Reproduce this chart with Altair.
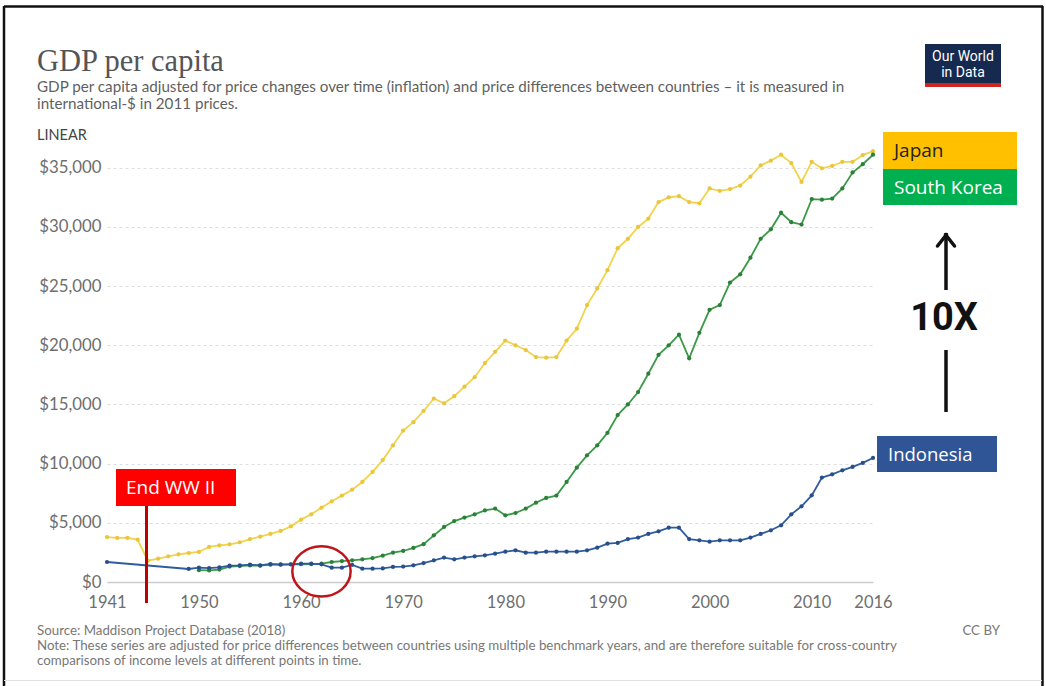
import altair as alt
import pandas as pd

# ---------------- data (values in thousands of international-$) ----------------
japan_years = list(range(1941, 2017))
japan_k = [3.80, 3.72, 3.72, 3.58, 1.80, 1.97, 2.17, 2.34, 2.45, 2.54,
           2.96, 3.10, 3.18, 3.35, 3.63, 3.83, 4.06, 4.31, 4.70, 5.27,
           5.72, 6.28, 6.82, 7.30, 7.80, 8.45, 9.30, 10.30, 11.55, 12.80,
           13.50, 14.45, 15.50, 15.10, 15.70, 16.50, 17.30, 18.50, 19.45, 20.40,
           20.00, 19.60, 19.00, 18.95, 19.00, 20.40, 21.40, 23.40, 24.80, 26.35,
           28.20, 29.00, 30.00, 30.70, 32.10, 32.50, 32.60, 32.10, 32.00, 33.25,
           33.05, 33.20, 33.50, 34.25, 35.20, 35.60, 36.10, 35.40, 33.80, 35.50,
           34.95, 35.15, 35.50, 35.50, 36.07, 36.40]

korea_years = list(range(1950, 2017))
korea_k = [1.00, 0.98, 1.05, 1.30, 1.35, 1.40, 1.38, 1.46, 1.48, 1.50,
           1.50, 1.52, 1.56, 1.69, 1.77, 1.83, 1.92, 2.02, 2.22, 2.48,
           2.62, 2.88, 3.20, 3.94, 4.65, 5.15, 5.44, 5.72, 6.05, 6.20,
           5.63, 5.83, 6.20, 6.70, 7.10, 7.30, 8.45, 9.66, 10.70, 11.55,
           12.60, 14.10, 15.00, 16.05, 17.60, 19.20, 20.00, 20.90, 18.90, 21.05,
           23.00, 23.40, 25.30, 26.00, 27.40, 29.00, 29.80, 31.20, 30.40, 30.20,
           32.35, 32.30, 32.40, 33.25, 34.60, 35.30, 36.10]

indonesia_years = [1941] + list(range(1949, 2017))
indonesia_k = [1.69,
               1.10, 1.21, 1.18, 1.24, 1.38, 1.41, 1.46, 1.41, 1.52, 1.46,
               1.49, 1.55, 1.55, 1.49, 1.21, 1.21, 1.45, 1.13, 1.13, 1.15,
               1.27, 1.30, 1.41, 1.60, 1.83, 2.06, 1.92, 2.06, 2.17, 2.25,
               2.39, 2.56, 2.68, 2.48, 2.48, 2.56, 2.56, 2.56, 2.56, 2.68,
               2.90, 3.24, 3.30, 3.63, 3.75, 4.06, 4.28, 4.59, 4.59, 3.63,
               3.52, 3.41, 3.52, 3.52, 3.52, 3.75, 4.06, 4.37, 4.79, 5.72,
               6.39, 7.32, 8.82, 9.10, 9.44, 9.72, 10.06, 10.48]

countries = ["Japan", "South Korea", "Indonesia"]
line_colors = ["#F1D34C", "#3A9A47", "#2F5C9E"]
point_colors = ["#E9C63C", "#2E7F3A", "#284F8C"]

x_ticks = [1941, 1950, 1960, 1970, 1980, 1990, 2000, 2010, 2016]
y_ticks = [0, 5000, 10000, 15000, 20000, 25000, 30000, 35000]

title_text = "GDP per capita"
subtitle_lines = [
    "GDP per capita adjusted for price changes over time (inflation) and price differences between countries \u2013 it is measured in",
    "international-$ in 2011 prices.",
]
footer_lines = [
    "Source: Maddison Project Database (2018)",
    "Note: These series are adjusted for price differences between countries using multiple benchmark years, and are therefore suitable for cross-country",
    "comparisons of income levels at different points in time.",
]

rows = []
for c, yrs, vals in [("Japan", japan_years, japan_k),
                     ("South Korea", korea_years, korea_k),
                     ("Indonesia", indonesia_years, indonesia_k)]:
    for yr, v in zip(yrs, vals):
        rows.append({"country": c, "year": yr, "gdp": round(v * 1000)})
df = pd.DataFrame(rows)

# ---------------- layout ----------------
W, H = 766, 432
L, T = 107, 150
R = 1046 - L - W
B = 686 - T - H

def px(x):
    return x - L

def py(y):
    return y - T

one = alt.Data(values=[{"k": 1}])

def box(x0, y0, x1, y1, fill):
    return alt.Chart(one).mark_rect(fill=fill, stroke=None).encode(
        x=alt.value(px(x0)), x2=alt.value(px(x1)),
        y=alt.value(py(y0)), y2=alt.value(py(y1)))

def label(x, y, text, **kw):
    return alt.Chart(one).mark_text(text=text, baseline="middle", **kw).encode(
        x=alt.value(px(x)), y=alt.value(py(y)))

def seg(x0, y0, x1, y1, color, width, cap="butt"):
    return alt.Chart(one).mark_rule(color=color, strokeWidth=width, strokeCap=cap).encode(
        x=alt.value(px(x0)), x2=alt.value(px(x1)),
        y=alt.value(py(y0)), y2=alt.value(py(y1)))

xenc = alt.X("year:Q",
             scale=alt.Scale(domain=[1941, 2016], nice=False, zero=False),
             axis=alt.Axis(values=x_ticks, format="d", title=None, grid=False,
                           domain=True, domainColor="#cccccc", domainWidth=1.5,
                           ticks=False, labelPadding=12, labelFontSize=16.5,
                           labelFont="Lato", labelColor="#6e6e6e",
                           labelFlush=False, labelOverlap=False))
yenc = alt.Y("gdp:Q",
             scale=alt.Scale(domain=[0, 36500], nice=False),
             axis=alt.Axis(values=y_ticks, format="$,.0f", title=None, grid=True,
                           gridDash=[3, 3], gridColor="#dddddd", gridWidth=1,
                           domain=False, ticks=False, labelPadding=6,
                           labelFontSize=16.8, labelFont="Lato", labelColor="#6e6e6e"))

base = alt.Chart(df)
series_layers = []
for c, lc, pc in zip(countries, line_colors, point_colors):
    sub = base.transform_filter(alt.datum.country == c)
    series_layers.append(
        sub.mark_line(strokeWidth=1.8, color=lc).encode(x=xenc, y=yenc, detail="country:N"))
    series_layers.append(
        sub.mark_point(filled=True, size=18, color=pc, opacity=1).encode(x=xenc, y=yenc))

# circle highlighting the crossover (~1962)
cross = alt.Chart(alt.Data(values=[{"year": 1962, "gdp": 900}])).mark_point(
    shape="M -1 0 A 1 0.86 0 1 0 1 0 A 1 0.86 0 1 0 -1 0 Z",
    filled=False, size=3400, color="#C0141B", strokeWidth=2.5, opacity=1
).encode(x=alt.X("year:Q"), y=alt.Y("gdp:Q"))

annot = []
# frame
annot.append(seg(4, 6.5, 1043, 6.5, "#111111", 2.5))
annot.append(seg(4, 6, 4, 686, "#111111", 2.5))
annot.append(seg(1042.5, 6, 1042.5, 686, "#111111", 2.5))
annot.append(seg(4, 680.5, 1042, 680.5, "#e2e2e2", 1))

# title, subtitle
annot.append(label(37, 62, title_text, font="Liberation Serif", fontSize=30.5,
                   color="#555555", align="left"))
annot.append(label(37, 87, subtitle_lines[0], font="Lato", fontSize=15.2,
                   color="#5f5f5f", align="left"))
annot.append(label(37, 103.5, subtitle_lines[1], font="Lato", fontSize=15.2,
                   color="#5f5f5f", align="left"))
annot.append(label(37, 136, "LINEAR", font="Lato", fontSize=14.5,
                   color="#444444", align="left"))

# OWID logo
annot.append(box(925, 44, 1001, 87, "#16294f"))
annot.append(box(925, 83, 1001, 87, "#CE261E"))
annot.append(label(963, 57, "Our World", font="Roboto", fontSize=14,
                   color="#ffffff", align="center"))
annot.append(label(963, 73, "in Data", font="Roboto", fontSize=14,
                   color="#ffffff", align="center"))

# country boxes
annot.append(box(883, 132, 1017, 169, "#FFC000"))
annot.append(label(894, 151, "Japan", font="Open Sans", fontSize=19,
                   color="#222222", align="left"))
annot.append(box(883, 169, 1017, 205, "#00B050"))
annot.append(label(894, 188, "South Korea", font="Open Sans", fontSize=19,
                   color="#ffffff", align="left"))
annot.append(box(877, 436, 997, 472, "#2F5597"))
annot.append(label(888, 455, "Indonesia", font="Open Sans", fontSize=18.5,
                   color="#ffffff", align="left"))

# 10X arrow
annot.append(seg(946, 236, 946, 290, "#111111", 3.5))
annot.append(seg(937.5, 246, 946.5, 234.5, "#111111", 3.5, "round"))
annot.append(seg(954.5, 246, 945.5, 234.5, "#111111", 3.5, "round"))
annot.append(label(944, 319, "10X", font="Roboto", fontSize=38, fontWeight="bold",
                   color="#111111", align="center"))
annot.append(seg(946, 350, 946, 412, "#111111", 3.5))

# End WW II
annot.append(seg(146.5, 506, 146.5, 603, "#C00000", 3))
annot.append(box(116, 469, 236, 506, "#FF0000"))
annot.append(label(126, 488, "End WW II", font="Open Sans", fontSize=19,
                   color="#ffffff", align="left"))

# footer
annot.append(label(37, 631, footer_lines[0], font="Lato", fontSize=13.3,
                   color="#777777", align="left"))
annot.append(label(37, 645.8, footer_lines[1], font="Lato", fontSize=13.3,
                   color="#777777", align="left"))
annot.append(label(37, 660.6, footer_lines[2], font="Lato", fontSize=13.3,
                   color="#777777", align="left"))
annot.append(label(1000, 631, "CC BY", font="Lato", fontSize=13.3,
                   color="#777777", align="right"))

chart = alt.layer(*series_layers, cross, *annot).properties(
    width=W, height=H,
    padding={"left": L, "top": T, "right": R, "bottom": B},
    autosize=alt.AutoSizeParams(type="none"),
    background="#ffffff",
).configure_view(stroke=None)

chart.save("out.html", embed_options={"renderer": "svg", "actions": False})
